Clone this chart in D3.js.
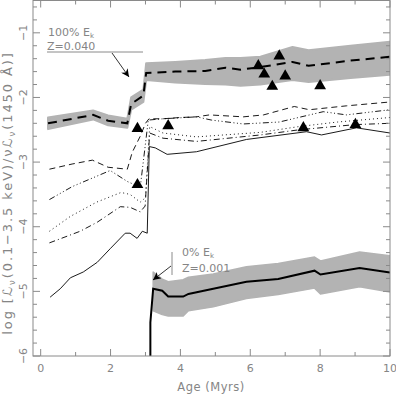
<!DOCTYPE html>
<html><head><meta charset="utf-8">
<script src="https://cdn.jsdelivr.net/npm/d3@7"></script>
<style>body{margin:0;background:#fff}svg{display:block}text{font-family:"DejaVu Sans",Arial,sans-serif;fill:#858585}</style>
</head><body><svg id="c" width="396" height="395"></svg>
<script>
// ---- data ----
const xTicks = [0, 2, 4, 6, 8, 10];
const yTicks = [-6, -5, -4, -3, -2, -1];
const xTickLabels = ["0", "2", "4", "6", "8", "10"];
const yTickLabels = ["\u22126", "\u22125", "\u22124", "\u22123", "\u22122", "\u22121"];

// 100% Ek, Z=0.040 model (thick dashed) with uncertainty band
const hiAge = [0.21, 1.50, 1.93, 2.48, 2.59, 2.94, 3.02, 3.85, 4.71, 5.29, 5.72, 6.29, 7.21, 7.67, 8.87, 10.0];
const hiMid = [-2.40, -2.27, -2.36, -2.40, -2.10, -1.97, -1.62, -1.60, -1.59, -1.54, -1.57, -1.53, -1.45, -1.51, -1.43, -1.37];
const hiLo  = [-2.49, -2.34, -2.43, -2.47, -2.19, -2.07, -1.73, -1.77, -1.79, -1.80, -1.82, -1.80, -1.73, -1.76, -1.70, -1.65];
const hiUp  = [-2.31, -2.20, -2.28, -2.33, -2.00, -1.88, -1.47, -1.45, -1.42, -1.39, -1.39, -1.37, -1.22, -1.27, -1.20, -1.14];

// 0% Ek, Z=0.001 model (thick solid) with band
const loAge = [3.14, 3.14, 3.22, 3.48, 3.65, 4.08, 4.23, 4.94, 5.89, 6.80, 7.84, 8.01, 9.13, 10.0];
const loMid = [-6.0, -5.48, -4.96, -4.99, -5.08, -5.08, -5.04, -4.96, -4.85, -4.81, -4.68, -4.74, -4.64, -4.71];
const bandAge = [3.22, 3.48, 3.65, 4.08, 4.23, 4.94, 5.89, 6.80, 7.84, 8.01, 9.13, 10.0];
const bandLo  = [-5.30, -5.36, -5.38, -5.38, -5.30, -5.24, -5.11, -5.05, -4.95, -5.04, -4.93, -5.01];
const bandUp  = [-4.70, -4.81, -4.85, -4.82, -4.78, -4.73, -4.62, -4.57, -4.47, -4.53, -4.39, -4.45];

// thin model curves
const dashedAge = [0.25, 0.9, 1.48, 1.93, 2.48, 2.62, 2.85, 3.0, 3.1, 3.5, 4.0, 4.46, 4.83, 5.80, 6.38, 7.26, 7.69, 8.75, 10.0];
const dashedVal = [-3.11, -3.03, -2.97, -3.08, -3.11, -2.85, -2.60, -2.40, -2.33, -2.33, -2.31, -2.30, -2.27, -2.30, -2.27, -2.14, -2.19, -2.13, -2.07];
const dddAge = [0.25, 0.9, 1.99, 2.48, 2.85, 3.08, 3.5, 4.46, 4.89, 5.80, 6.83, 8.09, 8.75, 10.0];
const dddVal = [-3.58, -3.38, -3.13, -3.30, -3.39, -2.35, -2.33, -2.30, -2.35, -2.41, -2.38, -2.22, -2.27, -2.19];
const dotAge = [0.25, 0.85, 1.6, 2.3, 2.56, 2.85, 3.0, 3.12, 3.5, 4.46, 6.29, 7.4, 8.5, 10.0];
const dotVal = [-4.07, -3.84, -3.62, -3.47, -3.50, -3.62, -3.55, -2.45, -2.55, -2.61, -2.54, -2.45, -2.38, -2.31];
const dashdotAge = [0.25, 1.13, 1.62, 2.28, 2.56, 2.85, 2.99, 3.12, 3.5, 4.46, 6.29, 7.4, 9.0, 10.0];
const dashdotVal = [-4.25, -4.07, -3.93, -3.69, -3.70, -3.77, -3.68, -2.55, -2.63, -2.68, -2.58, -2.50, -2.42, -2.40];
const solidAge = [0.27, 0.56, 0.85, 1.22, 1.62, 1.99, 2.42, 2.56, 2.76, 2.91, 3.05, 3.11, 3.28, 3.62, 4.46, 5.89, 7.61, 8.04, 9.04, 10.0];
const solidVal = [-5.09, -4.96, -4.79, -4.70, -4.55, -4.34, -4.10, -4.10, -4.18, -4.07, -4.10, -2.76, -2.78, -2.88, -2.84, -2.65, -2.53, -2.58, -2.47, -2.55];

// observed points (triangles)
const obsAge = [2.77, 2.77, 3.65, 6.23, 6.40, 6.83, 6.63, 7.00, 8.00, 7.52, 9.01];
const obsVal = [-3.35, -2.48, -2.44, -1.51, -1.64, -1.36, -1.83, -1.67, -1.82, -2.47, -2.42];

// ---- chart ----
const svg = d3.select("#c");
const L = 33, R = 390, T = 0.5, B = 356;
const x = d3.scaleLinear().domain([-0.22, 10]).range([L, R]);
const y = d3.scaleLinear().domain([-6, -0.5]).range([B, T]);
const frameCol = "#8a8a8a";

svg.append("clipPath").attr("id", "pc").append("rect")
  .attr("x", L).attr("y", T).attr("width", R - L).attr("height", B - T);
const g = svg.append("g").attr("clip-path", "url(#pc)");

const zip = (a, b) => a.map((v, i) => [v, b[i]]);
const line = d3.line().x(d => x(d[0])).y(d => y(d[1]));
const area = d3.area().x(d => x(d[0])).y0(d => y(d[1])).y1(d => y(d[2]));

g.append("path").datum(hiAge.map((a, i) => [a, hiLo[i], hiUp[i]]))
  .attr("d", area).attr("fill", "#b3b3b3").attr("stroke", "#b3b3b3").attr("stroke-width", 2).attr("stroke-linejoin", "round");
g.append("path").datum(bandAge.map((a, i) => [a, bandLo[i], bandUp[i]]))
  .attr("d", area).attr("fill", "#b3b3b3").attr("stroke", "#b3b3b3").attr("stroke-width", 1.5).attr("stroke-linejoin", "round");

const thin = [
  [dashedAge, dashedVal, "6,4"],
  [dddAge, dddVal, "6,2.5,1,2.5,1,2.5,1,2.5"],
  [dotAge, dotVal, "1,3"],
  [dashdotAge, dashdotVal, "6,3,1,3"],
  [solidAge, solidVal, null]
];
thin.forEach(([a, v, dash]) => {
  g.append("path").datum(zip(a, v)).attr("d", line).attr("fill", "none")
    .attr("stroke", "#000").attr("stroke-width", 0.9).attr("stroke-dasharray", dash);
});
g.append("path").datum(zip(hiAge, hiMid)).attr("d", line).attr("fill", "none")
  .attr("stroke", "#000").attr("stroke-width", 2).attr("stroke-dasharray", "9,6");
g.append("path").datum(zip(loAge, loMid)).attr("d", line).attr("fill", "none")
  .attr("stroke", "#000").attr("stroke-width", 2);

// triangles
g.selectAll("path.tri").data(zip(obsAge, obsVal)).join("path").attr("class", "tri")
  .attr("transform", d => `translate(${x(d[0])},${y(d[1])})`)
  .attr("d", d3.symbol(d3.symbolTriangle, 60)).attr("fill", "#000");

// frame
svg.append("rect").attr("x", L).attr("y", T).attr("width", R - L).attr("height", B - T)
  .attr("fill", "none").attr("stroke", frameCol).attr("stroke-width", 1);

// ticks (inward, all four sides)
const xMinor = d3.range(0, 10.01, 1), yMinor = d3.range(-6, -0.49, 0.2);
const tk = svg.append("g").attr("stroke", frameCol).attr("stroke-width", 1);
xMinor.forEach(v => {
  const maj = Math.abs(v % 2) < 1e-6;
  const len = maj ? 7 : 4;
  tk.append("line").attr("x1", x(v)).attr("x2", x(v)).attr("y1", B).attr("y2", B - len);
  tk.append("line").attr("x1", x(v)).attr("x2", x(v)).attr("y1", T).attr("y2", T + len);
});
yMinor.forEach(v => {
  const maj = Math.abs(v - Math.round(v)) < 1e-6;
  const len = maj ? 7 : 4;
  tk.append("line").attr("y1", y(v)).attr("y2", y(v)).attr("x1", L).attr("x2", L + len);
  tk.append("line").attr("y1", y(v)).attr("y2", y(v)).attr("x1", R).attr("x2", R - len);
});

// tick labels
svg.selectAll("text.xt").data(xTicks).join("text").attr("class", "xt")
  .attr("x", d => x(d)).attr("y", 372).attr("text-anchor", "middle").attr("font-size", 11)
  .text((d, i) => xTickLabels[i]);
svg.selectAll("text.yt").data(yTicks).join("text").attr("class", "yt")
  .attr("transform", d => `translate(27,${y(d)}) rotate(-90)`)
  .attr("text-anchor", "middle").attr("font-size", 11)
  .text((d, i) => yTickLabels[i]);

// axis titles
svg.append("text").attr("x", 211).attr("y", 391).attr("text-anchor", "middle").attr("font-size", 11.5)
  .attr("letter-spacing", 0.5).text("Age (Myrs)");
const yt = svg.append("text").attr("transform", "translate(12,193) rotate(-90)").attr("text-anchor", "middle")
  .attr("font-size", 13).attr("letter-spacing", 1.9);
yt.append("tspan").text("log [\u2112");
yt.append("tspan").attr("font-size", 8.5).attr("dy", 3).text("\u03bd");
yt.append("tspan").attr("dy", -3).text("(0.1\u22123.5 keV)/\u03bd\u2112");
yt.append("tspan").attr("font-size", 8.5).attr("dy", 3).text("\u03bd");
yt.append("tspan").attr("dy", -3).text("(1450 \u00c5)]");

// annotations
svg.append("defs").append("marker").attr("id", "ah").attr("viewBox", "0 0 10 10")
  .attr("refX", 10).attr("refY", 5).attr("markerWidth", 10).attr("markerHeight", 8)
  .attr("markerUnits", "userSpaceOnUse").attr("orient", "auto")
  .append("path").attr("d", "M0,0L10,5L0,10L3,5Z").attr("fill", "#000");

const a1 = svg.append("text").attr("x", 48).attr("y", 36).attr("font-size", 11);
a1.append("tspan").text("100% E");
a1.append("tspan").attr("font-size", 7).attr("dy", 2).text("k");
svg.append("text").attr("x", 47).attr("y", 50).attr("font-size", 11).text("Z=0.040");
svg.append("line").attr("x1", 47).attr("x2", 143).attr("y1", 52).attr("y2", 52).attr("stroke", "#8a8a8a");
svg.append("line").attr("x1", 112).attr("y1", 53).attr("x2", 129).attr("y2", 77)
  .attr("stroke", "#000").attr("stroke-width", 0.8).attr("marker-end", "url(#ah)");

const a2 = svg.append("text").attr("x", 182).attr("y", 256).attr("font-size", 11);
a2.append("tspan").text("0% E");
a2.append("tspan").attr("font-size", 7).attr("dy", 2).text("k");
svg.append("text").attr("x", 182).attr("y", 272).attr("font-size", 11).text("Z=0.001");
svg.append("line").attr("x1", 172).attr("x2", 172).attr("y1", 252).attr("y2", 275).attr("stroke", "#8a8a8a");
svg.append("line").attr("x1", 171).attr("y1", 266).attr("x2", 153).attr("y2", 280)
  .attr("stroke", "#000").attr("stroke-width", 0.8).attr("marker-end", "url(#ah)");
</script></body></html>
